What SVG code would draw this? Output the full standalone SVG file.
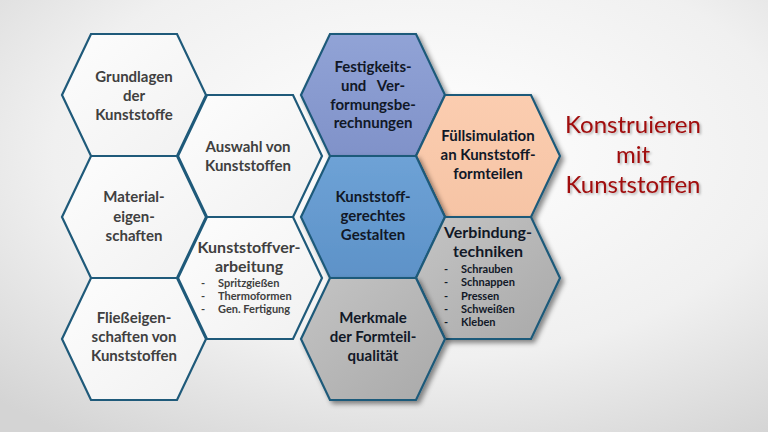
<svg xmlns="http://www.w3.org/2000/svg" width="768" height="432" viewBox="0 0 768 432">
<defs>
<radialGradient id="bg" cx="0.55" cy="0.35" r="0.8">
<stop offset="0" stop-color="#ffffff"/>
<stop offset="0.6" stop-color="#f0f0f0"/>
<stop offset="1" stop-color="#d4d4d4"/>
</radialGradient>
<linearGradient id="gWhite" x1="0" y1="0" x2="1" y2="1">
<stop offset="0" stop-color="#fdfdfd"/>
<stop offset="1" stop-color="#f1f1f1"/>
</linearGradient>
<linearGradient id="gPurple" x1="0" y1="0" x2="0" y2="1">
<stop offset="0" stop-color="#91a3d6"/>
<stop offset="1" stop-color="#8092c9"/>
</linearGradient>
<linearGradient id="gBlue" x1="0" y1="0" x2="0" y2="1">
<stop offset="0" stop-color="#6ea2d6"/>
<stop offset="1" stop-color="#5d92c8"/>
</linearGradient>
<linearGradient id="gPeach" x1="0" y1="0" x2="0" y2="1">
<stop offset="0" stop-color="#fbcdb0"/>
<stop offset="1" stop-color="#f6c4a5"/>
</linearGradient>
<linearGradient id="gGray" x1="0" y1="0" x2="1" y2="1">
<stop offset="0" stop-color="#c4c4c4"/>
<stop offset="1" stop-color="#a9a9a9"/>
</linearGradient>
<filter id="shadow" x="-20%" y="-20%" width="140%" height="140%">
<feDropShadow dx="3" dy="3" stdDeviation="2.5" flood-color="#000" flood-opacity="0.45"/>
</filter>
<filter id="tshadow" x="-10%" y="-10%" width="120%" height="130%">
<feDropShadow dx="1.5" dy="1.5" stdDeviation="1" flood-color="#000" flood-opacity="0.3"/>
</filter>
<style>
.hex{stroke:#1f5a7a;stroke-width:2.2;stroke-linejoin:miter}
.w{fill:url(#gWhite)}
.t{font-family:Lato,"Liberation Sans",sans-serif;font-weight:bold;font-size:15px;text-anchor:middle}
.tl{fill:#404040}
.tm{fill:#111827}
.big{font-size:16px}
.li{font-family:Lato,"Liberation Sans",sans-serif;font-weight:bold;font-size:11px}
.title{font-family:Lato,"Liberation Sans",sans-serif;font-size:24px;fill:#a00c0c;text-anchor:middle}
</style>
</defs>
<rect width="768" height="432" fill="url(#bg)"/>
<g id="connectors"/>

<g id="grundlagen" transform="translate(134,95)">
<polygon class="hex w" points="-72,0 -43,-61 43,-61 72,0 43,61 -43,61"/>
<text class="t tl" x="0" y="-13">Grundlagen</text>
<text class="t tl" x="0" y="6">der</text>
<text class="t tl" x="0" y="25">Kunststoffe</text>
</g>

<g id="auswahl" transform="translate(250,156)">
<polygon class="hex w" points="-72,0 -43,-61 43,-61 72,0 43,61 -43,61"/>
<text class="t tl" x="-2" y="-4">Auswahl von</text>
<text class="t tl" x="-2" y="15">Kunststoffen</text>
</g>

<g id="material" transform="translate(134,217)">
<polygon class="hex w" points="-72,0 -43,-61 43,-61 72,0 43,61 -43,61"/>
<text class="t tl" x="0" y="-15">Material-</text>
<text class="t tl" x="0" y="5">eigen-</text>
<text class="t tl" x="0" y="24">schaften</text>
</g>

<g id="verarbeitung" transform="translate(250,278)">
<polygon class="hex w" points="-72,0 -43,-61 43,-61 72,0 43,61 -43,61"/>
<text class="t tl big" x="-1" y="-25">Kunststoffver-</text>
<text class="t tl big" x="-1" y="-6">arbeitung</text>
<text class="li tl" x="-49" y="9">-</text>
<text class="li tl" x="-32" y="9">Spritzgießen</text>
<text class="li tl" x="-49" y="22">-</text>
<text class="li tl" x="-32" y="22">Thermoformen</text>
<text class="li tl" x="-49" y="35">-</text>
<text class="li tl" x="-32" y="35">Gen. Fertigung</text>
</g>

<g id="fliess" transform="translate(134,339)">
<polygon class="hex w" points="-72,0 -43,-61 43,-61 72,0 43,61 -43,61"/>
<text class="t tl" x="0" y="-16">Fließeigen-</text>
<text class="t tl" x="0" y="3">schaften von</text>
<text class="t tl" x="0" y="22">Kunststoffen</text>
</g>

<g id="festigkeit" transform="translate(373,95)">
<polygon class="hex" fill="url(#gPurple)" filter="url(#shadow)" points="-72,0 -43,-61 43,-61 72,0 43,61 -43,61"/>
<text class="t tm" x="0" y="-23">Festigkeits-</text>
<text class="t tm" x="0" y="-4" xml:space="preserve">und   Ver-</text>
<text class="t tm" x="0" y="15">formungsbe-</text>
<text class="t tm" x="0" y="33">rechnungen</text>
</g>

<g id="fuellsim" transform="translate(488,156)">
<polygon class="hex" fill="url(#gPeach)" filter="url(#shadow)" points="-72,0 -43,-61 43,-61 72,0 43,61 -43,61"/>
<text class="t tm" x="0" y="-15">Füllsimulation</text>
<text class="t tm" x="0" y="4">an Kunststoff-</text>
<text class="t tm" x="0" y="23">formteilen</text>
</g>

<g id="gestalten" transform="translate(373,217)">
<polygon class="hex" fill="url(#gBlue)" filter="url(#shadow)" points="-72,0 -43,-61 43,-61 72,0 43,61 -43,61"/>
<text class="t tm" x="0" y="-15">Kunststoff-</text>
<text class="t tm" x="0" y="4">gerechtes</text>
<text class="t tm" x="0" y="23">Gestalten</text>
</g>

<g id="verbindung" transform="translate(488,278)">
<polygon class="hex" fill="url(#gGray)" filter="url(#shadow)" points="-72,0 -43,-61 43,-61 72,0 43,61 -43,61"/>
<text class="t tm big" x="0" y="-40">Verbindung-</text>
<text class="t tm big" x="0" y="-21">techniken</text>
<text class="li tm" x="-44" y="-5">-</text>
<text class="li tm" x="-27" y="-5">Schrauben</text>
<text class="li tm" x="-44" y="8">-</text>
<text class="li tm" x="-27" y="8">Schnappen</text>
<text class="li tm" x="-44" y="22">-</text>
<text class="li tm" x="-27" y="22">Pressen</text>
<text class="li tm" x="-44" y="35">-</text>
<text class="li tm" x="-27" y="35">Schweißen</text>
<text class="li tm" x="-44" y="48">-</text>
<text class="li tm" x="-27" y="48">Kleben</text>
</g>

<g id="merkmale" transform="translate(373,339)">
<polygon class="hex" fill="url(#gGray)" filter="url(#shadow)" points="-72,0 -43,-61 43,-61 72,0 43,61 -43,61"/>
<text class="t tm" x="0" y="-16">Merkmale</text>
<text class="t tm" x="0" y="3">der Formteil-</text>
<text class="t tm" x="0" y="22">qualität</text>
</g>

<g id="title" filter="url(#tshadow)">
<text class="title" x="633" y="133">Konstruieren</text>
<text class="title" x="633" y="163">mit</text>
<text class="title" x="633" y="193">Kunststoffen</text>
</g>
</svg>
